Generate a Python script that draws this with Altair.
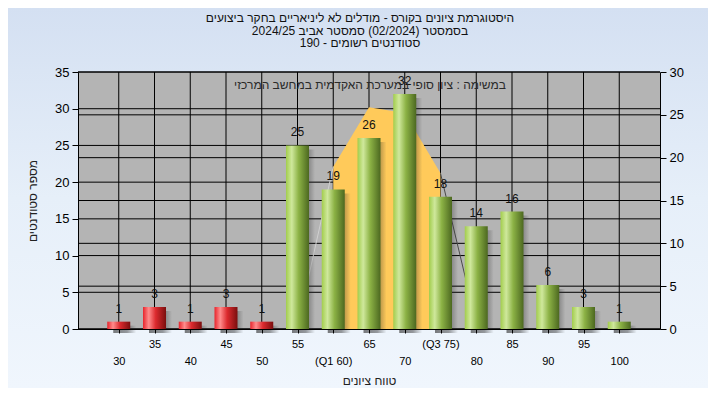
import altair as alt
import pandas as pd

# ---------------- data ----------------
scores = [30, 35, 40, 45, 50, 55, 60, 65, 70, 75, 80, 85, 90, 95, 100]
counts = [1, 3, 1, 3, 1, 25, 19, 26, 32, 18, 14, 16, 6, 3, 1]

curve_scores = [55, 60, 65, 70, 75, 80]
curve_values = [0.4, 22.1, 30.2, 29.4, 21.2, 0.8]

left_ticks = [0, 5, 10, 15, 20, 25, 30, 35]
right_ticks = [0, 5, 10, 15, 20, 25, 30]

title_lines = [
    "היסטוגרמת ציונים בקורס - מודלים לא ליניאריים בחקר ביצועים",
    "בסמסטר  (02/2024)  סמסטר אביב 2024/25",
    "סטודנטים רשומים - 190",
]
note_text = "במשימה : ציון סופי במערכת האקדמית במחשב המרכזי"
x_title = "טווח ציונים"
y_title = "מספר סטודנטים"

# ---------------- layout / style ----------------
FONT = "Liberation Sans, DejaVu Sans, sans-serif"
W, H = 582, 257
PAD = {"left": 70, "top": 64, "right": 48, "bottom": 59}

df_bars = pd.DataFrame({"score": scores, "v": counts})
df_curve = pd.DataFrame({"score": curve_scores, "v": curve_values})
df_left = pd.DataFrame({"v": left_ticks})
df_right = pd.DataFrame({"r": right_ticks})
df_one = pd.DataFrame({"k": [0]})
df_note = pd.DataFrame({"t": [note_text]})
df_title = pd.DataFrame({"t": ["\n".join(title_lines)]})

xscale = alt.Scale(domain=[25, 105], nice=False, zero=False)
yscale_left = alt.Scale(domain=[0, 35], nice=False)
yscale_right = alt.Scale(domain=[0, 30], nice=False)

xaxis = alt.Axis(
    values=scores,
    title=x_title,
    zindex=2,
    labelExpr=(
        "datum.value == 60 ? '(Q1 60)' : "
        "(datum.value == 75 ? '(Q3 75)' : datum.label)"
    ),
    labelFontSize=11,
    labelBaseline="top",
    labelPadding={"condition": {"test": "datum.value % 10 == 0", "value": 22}, "value": 5},
    labelOverlap=False,
    labelFlush=False,
    tickSize=4,
    titleFontSize=12,
    titleFontWeight="normal",
    titleColor="#222222",
    titleX=W / 2,
    titleY=51,
    titleBaseline="middle",
    titleAlign="center",
)

yaxis_left = alt.Axis(
    orient="left",
    values=left_ticks,
    title=y_title,
    zindex=2,
    labelFontSize=13,
    labelPadding=3,
    tickSize=6,
    titleFontSize=12,
    titleFontWeight="normal",
    titleColor="#222222",
    titleAngle=-90,
    titleX=-46,
    titleY=H / 2,
    titleBaseline="middle",
    titleAlign="center",
)

yaxis_right = alt.Axis(
    orient="right",
    values=right_ticks,
    title="",
    zindex=2,
    labelFontSize=13,
    labelPadding=3,
    tickSize=6,
)

X = alt.X("score:Q", scale=xscale, axis=xaxis)
Y = alt.Y("v:Q", scale=yscale_left, axis=yaxis_left)

bg_grad = alt.Gradient(
    gradient="linear",
    stops=[
        alt.GradientStop(color="#d4e0f2", offset=0),
        alt.GradientStop(color="#e6eff9", offset=0.5),
        alt.GradientStop(color="#f0f6fd", offset=1),
    ],
    x1=0, x2=0, y1=0, y2=1,
)
red_grad = alt.Gradient(
    gradient="linear",
    stops=[
        alt.GradientStop(color="#e8242c", offset=0),
        alt.GradientStop(color="#ff8c8c", offset=0.25),
        alt.GradientStop(color="#dc2a2e", offset=0.55),
        alt.GradientStop(color="#7a0e0e", offset=1),
    ],
    x1=0, x2=1, y1=0, y2=0,
)
green_grad = alt.Gradient(
    gradient="linear",
    stops=[
        alt.GradientStop(color="#a2cd4c", offset=0),
        alt.GradientStop(color="#cfe89c", offset=0.25),
        alt.GradientStop(color="#8cb245", offset=0.55),
        alt.GradientStop(color="#4c6820", offset=1),
    ],
    x1=0, x2=1, y1=0, y2=0,
)
shadow_grad = alt.Gradient(
    gradient="linear",
    stops=[
        alt.GradientStop(color="rgba(40,40,40,0.6)", offset=0),
        alt.GradientStop(color="rgba(40,40,40,0.45)", offset=0.6),
        alt.GradientStop(color="rgba(40,40,40,0)", offset=1),
    ],
    x1=0, x2=1, y1=0, y2=0,
)

# ---------------- backgrounds ----------------
bg = alt.Chart(df_one).mark_rect(color=bg_grad).encode(
    x=alt.value(-PAD["left"]), x2=alt.value(W + PAD["right"]),
    y=alt.value(-PAD["top"]), y2=alt.value(H + PAD["bottom"]),
)
plotbg = alt.Chart(df_one).mark_rect(color="#b4b4b4").encode(
    x=alt.value(0), x2=alt.value(W), y=alt.value(0), y2=alt.value(H)
)

# ---------------- right axis + its grid ----------------
right_group = alt.Chart(df_right).mark_rule(color="black", strokeWidth=1).encode(
    y=alt.Y("r:Q", scale=yscale_right, axis=yaxis_right)
)

# ---------------- main content ----------------
grid_h = alt.Chart(df_left).mark_rule(color="black", strokeWidth=1).encode(y=Y)
grid_v = alt.Chart(df_bars).mark_rule(color="black", strokeWidth=1).encode(x=X)

area = (
    alt.Chart(df_curve)
    .transform_filter("datum.score >= 60 && datum.score <= 75")
    .mark_area(color="#ffca5a", opacity=1)
    .encode(x=X, y=Y)
)
line_left = (
    alt.Chart(df_curve)
    .transform_filter("datum.score <= 60")
    .mark_line(color="#d0d0d0", strokeWidth=1)
    .encode(x=X, y=Y)
)
line_right = (
    alt.Chart(df_curve)
    .transform_filter("datum.score >= 75")
    .mark_line(color="#4a4a4a", strokeWidth=1)
    .encode(x=X, y=Y)
)

shadow = alt.Chart(df_bars).mark_bar(
    size=23, xOffset=6, yOffset=4, color=shadow_grad
).encode(x=X, y=Y)

bars_red = (
    alt.Chart(df_bars)
    .transform_filter("datum.score < 55")
    .mark_bar(size=23, color=red_grad)
    .encode(x=X, y=Y)
)
bars_green = (
    alt.Chart(df_bars)
    .transform_filter("datum.score >= 55")
    .mark_bar(size=23, color=green_grad)
    .encode(x=X, y=Y)
)

labels = alt.Chart(df_bars).mark_text(
    baseline="bottom", dy=-6, fontSize=12, font=FONT, color="#111111"
).encode(x=X, y=Y, text="v:Q")

note = alt.Chart(df_note).mark_text(
    fontSize=12, font=FONT, color="#2a2a2a", align="center", baseline="middle"
).encode(x=alt.value(292), y=alt.value(13), text="t:N")

title = alt.Chart(df_title).mark_text(
    fontSize=12, font=FONT, color="#111111", align="center",
    baseline="middle", lineBreak="\n", lineHeight=12.5,
).encode(x=alt.value(360 - 78), y=alt.value(-54), text="t:N")

main_group = alt.layer(
    grid_h, grid_v, area, line_left, line_right, shadow,
    bars_red, bars_green, labels, note, title,
)

chart = (
    alt.layer(bg, plotbg, right_group, main_group)
    .resolve_scale(y="independent")
    .properties(
        width=W,
        height=H,
        padding=PAD,
        autosize="none",
        background="#e6eff9",
    )
    .configure_view(stroke=None)
    .configure_axis(
        grid=False,
        domainColor="black",
        domainWidth=1,
        tickColor="black",
        labelColor="#000000",
        labelFont=FONT,
        titleFont=FONT,
    )
)

chart.save("out.html", embed_options={"renderer": "svg", "actions": False})
